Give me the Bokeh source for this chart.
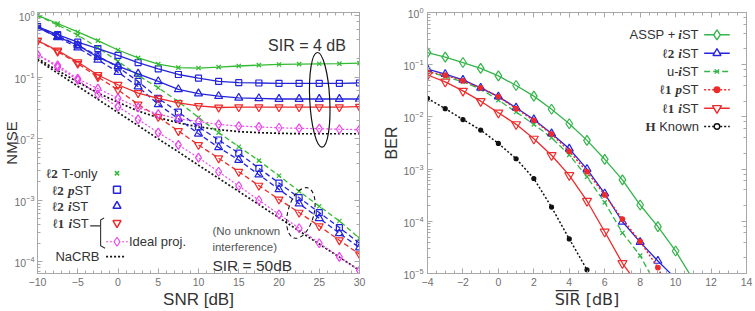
import math
from bokeh.plotting import figure
from bokeh.layouts import row
from bokeh.models import (Range1d, LinearAxis, LogAxis, Label, SingleIntervalTicker,
                          LogTicker, CustomJSTickFormatter)
from bokeh.embed import file_html
from bokeh.resources import INLINE

SANS = "Liberation Sans"
SERIF = "Liberation Serif"
TXT = "#333333"
TICK_TXT = "#707070"
FRAME = "#a8a8a8"

GREEN = "#33bb33"
GREEN2 = "#33b54a"
BLUE = "#2424dd"
RED = "#ee2a2a"
MAGENTA = "#ee44ee"
BLACK = "#111111"

# ---------------- NMSE vs SNR ----------------
snr = [-10, -7.5, -5, -2.5, 0, 2.5, 5, 7.5, 10, 12.5, 15, 17.5, 20, 22.5, 25, 27.5, 30]

# SIR = 4 dB (solid)
t_only_sir4 = [1.0, 0.74, 0.54, 0.39, 0.275, 0.205, 0.162, 0.142, 0.14, 0.145, 0.151,
               0.156, 0.16, 0.162, 0.164, 0.165, 0.168]
pst_sir4 = [0.66, 0.49, 0.37, 0.29, 0.224, 0.172, 0.136, 0.11, 0.096, 0.085, 0.081,
            0.080, 0.079, 0.079, 0.079, 0.079, 0.080]
ist_sir4 = [0.64, 0.45, 0.33, 0.21, 0.15, 0.113, 0.085, 0.063, 0.054, 0.049, 0.046,
            0.045, 0.044, 0.044, 0.044, 0.044, 0.044]
l1_ist_sir4 = [0.39, 0.27, 0.175, 0.108, 0.075, 0.055, 0.045, 0.038, 0.034, 0.032, 0.0325,
               0.0325, 0.0325, 0.0325, 0.0325, 0.0325, 0.033]
ideal_sir4 = [0.23, 0.155, 0.094, 0.065, 0.045, 0.032, 0.025, 0.021, 0.019, 0.017, 0.016,
              0.0155, 0.015, 0.0147, 0.0145, 0.0142, 0.014]
nacrb_sir4 = [0.2, 0.128, 0.083, 0.055, 0.039, 0.028, 0.022, 0.018, 0.0155, 0.014, 0.013,
              0.0125, 0.0122, 0.012, 0.012, 0.012, 0.012]

# SIR = 50 dB (dashed)
t_only_sir50 = [1.0, 0.7, 0.48, 0.3, 0.18, 0.106, 0.067, 0.04, 0.022, 0.0125, 0.0074,
                0.0044, 0.0025, 0.0014, 0.0008, 0.00046, 0.00024]
pst_sir50 = [0.66, 0.47, 0.33, 0.22, 0.145, 0.085, 0.045, 0.027, 0.0155, 0.0095, 0.0058,
             0.0033, 0.0019, 0.0011, 0.00063, 0.00036, 0.0002]
ist_sir50 = [0.64, 0.44, 0.3, 0.19, 0.12, 0.07, 0.036, 0.021, 0.012, 0.0072, 0.0045,
             0.0026, 0.0015, 0.00088, 0.00051, 0.00029, 0.00017]
l1_ist_sir50 = [0.39, 0.26, 0.165, 0.1, 0.062, 0.036, 0.0225, 0.0133, 0.0079, 0.0048, 0.0029,
                0.00173, 0.00103, 0.00063, 0.00038, 0.000224, 0.000133]
ideal_sir50 = [0.23, 0.145, 0.09, 0.052, 0.033, 0.0205, 0.0125, 0.0079, 0.0049, 0.0029, 0.0017,
               0.001, 0.00059, 0.00035, 0.0002, 0.00012, 0.000072]
nacrb_sir50 = [0.19, 0.116, 0.071, 0.0435, 0.0266, 0.0163, 0.0099, 0.0061, 0.0037, 0.00227,
               0.00139, 0.00085, 0.00052, 0.000317, 0.000194, 0.000119, 0.0000725]

# ---------------- BER vs mean SIR ----------------
sir = [-4, -3, -2, -1, 0, 1, 2, 3, 4, 5, 6, 7, 8, 9, 10, 11]
ber_assp = [0.17, 0.14, 0.11, 0.085, 0.061, 0.040, 0.025, 0.014, 0.0074, 0.00355, 0.00154,
            0.00062, 0.000205, 0.000079, 0.000027, 0.0000075]
ber_l2_ist = [0.082, 0.066, 0.051, 0.036, 0.0245, 0.015, 0.0089, 0.0048, 0.00245, 0.001,
              0.00034, 0.000098, 0.00004, 0.0000174, 0.000008]
ber_u_ist = [0.075, 0.059, 0.047, 0.034, 0.021, 0.0124, 0.0072, 0.004, 0.00187, 0.00071,
             0.00023, 0.00006, 0.000022, 0.0000052]
ber_l1_pst = [0.073, 0.063, 0.049, 0.036, 0.0245, 0.0144, 0.0086, 0.0047, 0.0022, 0.00089,
              0.00032, 0.00011, 0.000041, 0.000013, 0.0000024]
ber_l1_ist = [0.0635, 0.047, 0.0315, 0.020, 0.012, 0.0072, 0.0038, 0.00184, 0.00076,
              0.000245, 0.000063, 0.0000157, 0.0000054]
ber_h_known = [0.0227, 0.0144, 0.0089, 0.0056, 0.0031, 0.00158, 0.00066, 0.000187,
               0.000046, 0.0000118, 0.0000018]

# ---------------- page geometry (page pixels) ----------------
L_LEFT, L_RIGHT, L_TOP, L_BOT = 35, 359, 10, 273
L_YTOP, L_YBOT = 0.048, -4.19
R_LEFT, R_RIGHT, R_TOP, R_BOT = 422, 746, 12, 273


def lx(px):
    return -10 + (px - L_LEFT) / (L_RIGHT - L_LEFT) * 40


def ly(py):
    return 10 ** (L_YTOP - (py - L_TOP) / (L_BOT - L_TOP) * (L_YTOP - L_YBOT))


def rx(px):
    return -4 + (px - R_LEFT) / (R_RIGHT - R_LEFT) * 18


def ry(py):
    return 10 ** (0 - (py - R_TOP) / (R_BOT - R_TOP) * 5)


# rough advance widths (em) used to chain mixed-font text pieces
SANS_W = {' ': .278, '(': .333, ')': .333, '+': .584, '-': .333, '.': .278, '=': .584,
          '[': .278, ']': .278,
          'A': .667, 'B': .667, 'C': .722, 'D': .722, 'E': .667, 'H': .722, 'I': .278,
          'K': .667, 'N': .722, 'P': .667, 'R': .722, 'S': .667, 'T': .611,
          'a': .556, 'c': .5, 'd': .556, 'e': .556, 'f': .278, 'i': .222, 'j': .222,
          'k': .5, 'l': .222, 'n': .556, 'o': .556, 'p': .556, 'r': .333, 's': .5,
          't': .278, 'u': .556, 'w': .722, 'y': .5}
SERIF_W = {' ': .25, 'ℓ': .46, '1': .5, '2': .5, 'i': .278, 'p': .5, 'H': .778,
           'S': .556, 'I': .333, 'R': .667}


def text_w(s, size, font):
    table = SERIF_W if font == SERIF else SANS_W
    return sum(table.get(c, .556) for c in s) * size


def pieces(p, segs, px, py, size, fx, fy, align="left", color=TXT):
    widths = [text_w(t, size, f) for t, f, _ in segs]
    x = px - sum(widths) if align == "right" else px
    for (t, f, st), w in zip(segs, widths):
        if t.strip():
            p.add_layout(Label(x=fx(x), y=fy(py), text=t, text_font=f, text_font_style=st,
                               text_font_size=f"{size}px", text_color=color,
                               text_align="left", text_baseline="middle"))
        x += w


def style_axes(p, x_interval, x_minor):
    bottom, left = p.below[0], p.left[0]
    bottom.ticker = SingleIntervalTicker(interval=x_interval, num_minor_ticks=x_minor)
    top = LinearAxis(ticker=SingleIntervalTicker(interval=x_interval, num_minor_ticks=x_minor),
                     formatter=CustomJSTickFormatter(code="return ''"))
    right = LogAxis(ticker=LogTicker(), formatter=CustomJSTickFormatter(code="return ''"))
    p.add_layout(top, "above")
    p.add_layout(right, "right")
    for ax in (bottom, left, top, right):
        ax.axis_line_color = FRAME
        ax.major_tick_line_color = FRAME
        ax.minor_tick_line_color = FRAME
        ax.major_tick_in = 5
        ax.major_tick_out = 0
        ax.minor_tick_in = 3
        ax.minor_tick_out = 0
        ax.major_label_text_font = SANS
        ax.major_label_text_font_size = "10.5px"
        ax.major_label_text_color = TICK_TXT
        ax.major_label_standoff = 4
        ax.axis_label_text_font = SANS
        ax.axis_label_text_font_style = "normal"
        ax.axis_label_text_color = TXT
    for ax in (top, right):
        ax.major_label_text_font_size = "0px"
        ax.major_label_standoff = 0
    p.xgrid.visible = False
    p.ygrid.visible = False
    p.outline_line_color = FRAME
    return bottom, left


# ================= left panel =================
pl = figure(width=380, height=311, x_range=Range1d(-10, 30),
            y_range=Range1d(10 ** L_YBOT, 10 ** L_YTOP), y_axis_type="log",
            output_backend="svg", toolbar_location=None,
            min_border_left=L_LEFT, min_border_right=380 - L_RIGHT,
            min_border_top=L_TOP, min_border_bottom=311 - L_BOT)
l_bottom, l_left = style_axes(pl, 5, 5)
l_bottom.axis_label = "SNR [dB]"
l_bottom.axis_label_text_font_size = "17px"
l_bottom.axis_label_standoff = 1
l_left.axis_label = "NMSE"
l_left.axis_label_text_font_size = "15px"
l_left.major_label_standoff = 3
l_left.axis_label_standoff = -9

LW = 1.3
DASH = "5 3"


def series(p, xs, ys, color, dash, marker, size, lw=LW):
    p.line(xs, ys, line_color=color, line_width=lw, line_dash=dash)
    if marker:
        p.scatter(xs, ys, marker=marker, size=size, line_color=color, fill_color=None,
                  line_width=1.2)


# lower bound curves
series(pl, snr, nacrb_sir50, BLACK, "2 2", None, 0, lw=1.7)
series(pl, snr, nacrb_sir4, BLACK, "2 2", None, 0, lw=1.7)
# SIR = 50 dB
series(pl, snr, ideal_sir50, MAGENTA, "2 2", "diamond", 9, lw=1.2)
series(pl, snr, l1_ist_sir50, RED, DASH, "inverted_triangle", 8)
series(pl, snr, ist_sir50, BLUE, DASH, "triangle", 8)
series(pl, snr, pst_sir50, BLUE, DASH, "square", 6)
series(pl, snr, t_only_sir50, GREEN, DASH, "x", 6)
# SIR = 4 dB
series(pl, snr, ideal_sir4, MAGENTA, "2 2", "diamond", 9, lw=1.2)
series(pl, snr, l1_ist_sir4, RED, "solid", "inverted_triangle", 8)
series(pl, snr, ist_sir4, BLUE, "solid", "triangle", 8)
series(pl, snr, pst_sir4, BLUE, "solid", "square", 6)
series(pl, snr, t_only_sir4, GREEN, "solid", "x", 6)

# group markings
pl.ellipse(x=[lx(319)], y=[ly(98)], width=20, height=95, width_units="screen",
           height_units="screen", angle=0.05, fill_color=None, line_color=BLACK,
           line_width=1.2)
pl.ellipse(x=[lx(300)], y=[ly(212)], width=26, height=52, width_units="screen",
           height_units="screen", angle=-0.26, fill_color=None, line_color=BLACK,
           line_width=1.1, line_dash="4 3")

pl.add_layout(Label(x=lx(267), y=ly(43.5), text="SIR = 4 dB", text_font=SANS,
                    text_font_size="16px", text_color=TXT, text_baseline="alphabetic"))
pl.add_layout(Label(x=lx(211), y=ly(265), text="SIR = 50dB", text_font=SANS,
                    text_font_size="15.5px", text_color=TXT, text_baseline="alphabetic"))
pl.add_layout(Label(x=lx(211), y=ly(230), text="(No unknown", text_font=SANS,
                    text_font_size="11.5px", text_color="#555555", text_baseline="alphabetic"))
pl.add_layout(Label(x=lx(211), y=ly(246), text="interference)", text_font=SANS,
                    text_font_size="11.5px", text_color="#555555", text_baseline="alphabetic"))

# legend (text on the left, symbol on the right)
LEG = 13
SP = (" ", SERIF, "normal")
pieces(pl, [("ℓ2", SERIF, "bold"), SP, ("T-only", SANS, "normal")], 44, 172, LEG, lx, ly)
pieces(pl, [("ℓ2", SERIF, "bold"), SP, ("p", SERIF, "bold italic"), ("ST", SANS, "normal")],
       50, 189, LEG, lx, ly)
pieces(pl, [("ℓ2", SERIF, "bold"), SP, ("i", SERIF, "bold italic"), ("ST", SANS, "normal")],
       50, 205.5, LEG, lx, ly)
pieces(pl, [("ℓ1", SERIF, "bold"), SP, ("i", SERIF, "bold italic"), ("ST", SANS, "normal")],
       50.5, 223, LEG, lx, ly)
pieces(pl, [("Ideal proj.", SANS, "normal")], 127, 241, LEG, lx, ly)
pieces(pl, [("NaCRB", SANS, "normal")], 53, 256, LEG, lx, ly)

pl.scatter([lx(115)], [ly(172)], marker="x", size=6, line_color=GREEN, line_width=1.5)
pl.scatter([lx(115)], [ly(188.5)], marker="square", size=7, line_color=BLUE,
           fill_color=None, line_width=1.5)
pl.scatter([lx(115)], [ly(205)], marker="triangle", size=8, line_color=BLUE,
           fill_color=None, line_width=1.5)
pl.scatter([lx(115)], [ly(222)], marker="inverted_triangle", size=8, line_color=RED,
           fill_color=None, line_width=1.5)
pl.line([lx(104), lx(126)], [ly(241)] * 2, line_color=MAGENTA, line_width=1.2,
        line_dash="2 2")
pl.scatter([lx(115)], [ly(241)], marker="diamond", size=9, line_color=MAGENTA,
           fill_color="white", line_width=1.2)
pl.line([lx(104), lx(123)], [ly(256)] * 2, line_color=BLACK, line_width=1.6,
        line_dash="2 2")
# brace joining the l1 entry and its ideal-projection variant
pl.line([lx(88), lx(98)], [ly(225)] * 2, line_color=TXT, line_width=1.1)
pl.line([lx(102), lx(98.5), lx(98.5), lx(103)], [ly(217), ly(219), ly(245), ly(247.5)],
        line_color=TXT, line_width=1.1)

# ================= right panel =================
pr = figure(width=375, height=311, x_range=Range1d(-4, 14), y_range=Range1d(1e-5, 1),
            y_axis_type="log", output_backend="svg", toolbar_location=None,
            min_border_left=R_LEFT - 380, min_border_right=755 - R_RIGHT,
            min_border_top=R_TOP, min_border_bottom=311 - R_BOT)
r_bottom, r_left = style_axes(pr, 2, 4)
r_bottom.axis_label = "S̅I̅R̅ [dB]"
r_bottom.axis_label_text_font = "DejaVu Sans"
r_bottom.axis_label_text_font_size = "16px"
r_bottom.axis_label_standoff = 1
r_left.axis_label = "BER"
r_left.axis_label_text_font_size = "16px"
r_left.axis_label_standoff = 0


def rseries(xs, ys, color, dash, marker, size, fill=None, lw=1.3):
    pr.line(xs[:len(ys)], ys, line_color=color, line_width=lw, line_dash=dash)
    pr.scatter(xs[:len(ys)], ys, marker=marker, size=size, line_color=color,
               fill_color=fill, line_width=1.2)


rseries(sir, ber_h_known, BLACK, "2 2", "circle", 4, fill=BLACK, lw=1.5)
rseries(sir, ber_l1_ist, RED, "solid", "inverted_triangle", 9)
rseries(sir, ber_u_ist, GREEN2, "6 3", "x", 6)
rseries(sir, ber_assp, GREEN2, "solid", "diamond", 10)
rseries(sir, ber_l2_ist, BLUE, "solid", "triangle", 8)
rseries(sir, ber_l1_pst, RED, "2 2", "circle", 4.5, fill=RED, lw=1.5)

# legend
leg_rows = [
    ([("ASSP + ", SANS, "normal"), ("i", SERIF, "bold italic"), ("ST", SANS, "normal")],
     GREEN2, "solid", "diamond", 10, None),
    ([("ℓ2", SERIF, "bold"), SP, ("i", SERIF, "bold italic"), ("ST", SANS, "normal")],
     BLUE, "solid", "triangle", 8, None),
    ([("u-", SANS, "normal"), ("i", SERIF, "bold italic"), ("ST", SANS, "normal")],
     GREEN2, "6 3", "x", 6, None),
    ([("ℓ1", SERIF, "bold"), SP, ("p", SERIF, "bold italic"), ("ST", SANS, "normal")],
     RED, "2 2", "circle", 5.5, RED),
    ([("ℓ1", SERIF, "bold"), SP, ("i", SERIF, "bold italic"), ("ST", SANS, "normal")],
     RED, "solid", "inverted_triangle", 9, None),
    ([("H", SERIF, "bold"), (" ", SANS, "normal"), ("Known", SANS, "normal")],
     BLACK, "2 2", "circle", 5.5, "white"),
]
row_y = [34.3, 52.7, 71, 89.3, 107.7, 126]
for (segs, color, dash, marker, size, fill), yy in zip(leg_rows, row_y):
    pieces(pr, segs, 697, yy, 13, rx, ry, align="right")
    pr.line([rx(703), rx(729)], [ry(yy)] * 2, line_color=color, line_width=1.4,
            line_dash=dash)
    pr.scatter([rx(716)], [ry(yy)], marker=marker, size=size, line_color=color,
               fill_color=fill if fill else "white", line_width=1.4)

layout = row(pl, pr)
open("out.html", "w").write(file_html(layout, INLINE))
